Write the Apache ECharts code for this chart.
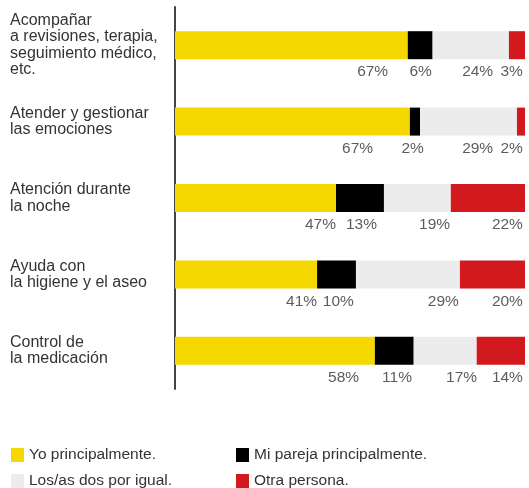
<!DOCTYPE html>
<html>
<head>
<meta charset="utf-8">
<style>
  html, body { margin: 0; padding: 0; background: #fff; }
  #chart { width: 529px; height: 488px; }
</style>
<script src="https://cdn.jsdelivr.net/npm/echarts@6/dist/echarts.min.js"></script>
</head>
<body>
<div id="chart"></div>
<script>
// categorías (de arriba abajo)
const categories = [
  "Acompañar\na revisiones, terapia,\nseguimiento médico,\netc.",
  "Atender y gestionar\nlas emociones",
  "Atención durante\nla noche",
  "Ayuda con\nla higiene y el aseo",
  "Control de\nla medicación"
];
const seriesNames = [
  "Yo principalmente.",
  "Mi pareja principalmente.",
  "Los/as dos por igual.",
  "Otra persona."
];
// longitud de cada tramo (% del ancho)
const yoValues = [66.5, 67.1, 46.0, 40.6, 57.1];
const parejaValues = [7.1, 2.9, 13.7, 11.1, 11.1];
const ambosValues = [21.8, 27.7, 19.1, 29.7, 18.0];
const otraValues = [4.6, 2.3, 21.2, 18.6, 13.8];
// etiquetas de porcentaje y dónde terminan (en unidades del eje x)
const yoLabels = ["67%", "67%", "47%", "41%", "58%"];
const parejaLabels = ["6%", "2%", "13%", "10%", "11%"];
const ambosLabels = ["24%", "29%", "19%", "29%", "17%"];
const otraLabels = ["3%", "2%", "22%", "20%", "14%"];
const yoLabelEnd = [60.9, 56.6, 46.0, 40.6, 52.6];
const parejaLabelEnd = [73.4, 71.1, 57.7, 51.1, 67.7];
const ambosLabelEnd = [90.9, 90.9, 78.6, 81.1, 86.3];
const otraLabelEnd = [99.4, 99.4, 99.4, 99.4, 99.4];

const colors = ["#f5d800", "#000000", "#ececec", "#d1191e"];
const font = "'Liberation Sans', Arial, Helvetica, sans-serif";

const values = [yoValues, parejaValues, ambosValues, otraValues];
const labelTexts = [yoLabels, parejaLabels, ambosLabels, otraLabels];
const labelEnds = [yoLabelEnd, parejaLabelEnd, ambosLabelEnd, otraLabelEnd];

const barSeries = seriesNames.map((name, i) => ({
  name: name,
  type: "bar",
  stack: "total",
  barWidth: 28,
  itemStyle: { color: colors[i] },
  emphasis: { disabled: true },
  data: values[i]
}));

const labelData = [];
labelTexts.forEach((arr, i) => {
  arr.forEach((t, j) => {
    labelData.push([labelEnds[i][j], j, t]);
  });
});

const labelSeries = {
  type: "scatter",
  symbolSize: 0,
  silent: true,
  data: labelData,
  label: {
    show: true,
    position: "left",
    distance: 0,
    offset: [0, 27],
    color: "#333",
    fontSize: 15.5,
    fontFamily: font,
    formatter: (p) => p.data[2]
  }
};

const catLabelStyle = {
  align: "left",
  color: "#333",
  fontSize: 16,
  lineHeight: 16.5,
  fontFamily: font
};

// el primer rótulo (4 líneas) va un poco más abajo
const categoryData = categories.map((c, i) =>
  i === 0
    ? { value: c, textStyle: Object.assign({}, catLabelStyle, { padding: [5, 0, 0, 0] }) }
    : c
);

// leyenda en dos filas y dos columnas
const legendPos = [
  { left: 11, top: 447 },
  { left: 236, top: 447 },
  { left: 11, top: 473 },
  { left: 236, top: 473 }
];
const legends = seriesNames.map((name, i) => ({
  data: [name],
  left: legendPos[i].left,
  top: legendPos[i].top,
  padding: 0,
  icon: "rect",
  itemWidth: 13,
  itemHeight: 14,
  itemGap: 0,
  selectedMode: false,
  textStyle: { color: "#333", fontSize: 15.5, fontFamily: font }
}));

const chart = echarts.init(document.getElementById("chart"), null, { renderer: "canvas" });
chart.setOption({
  animation: false,
  color: colors,
  legend: legends,
  grid: { left: 175, right: 4, top: 7, bottom: 99, outerBoundsMode: "none" },
  xAxis: {
    type: "value",
    min: 0,
    max: 100,
    show: false
  },
  yAxis: {
    type: "category",
    inverse: true,
    data: categoryData,
    axisLine: { show: true, lineStyle: { color: "#444", width: 2 } },
    axisTick: { show: false },
    splitLine: { show: false },
    axisLabel: Object.assign({ margin: 165 }, catLabelStyle)
  },
  series: [...barSeries, labelSeries]
});
</script>
</body>
</html>
